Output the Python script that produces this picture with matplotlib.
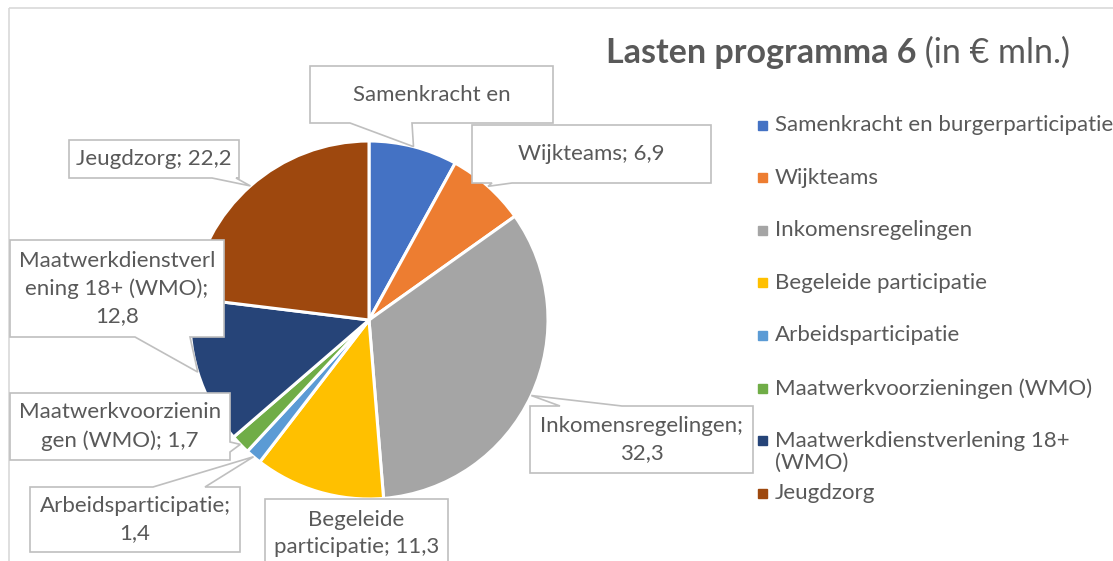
""" Lasten programma 6 - taartdiagram met callout labels """

import matplotlib.pyplot as plt
from matplotlib.patches import Polygon, Rectangle
import numpy as np

categories = ['Samenkracht en burgerparticipatie', 'Wijkteams', 'Inkomensregelingen',
              'Begeleide participatie', 'Arbeidsparticipatie',
              'Maatwerkvoorzieningen (WMO)', 'Maatwerkdienstverlening 18+ (WMO)',
              'Jeugdzorg']
values = [7.7, 6.9, 32.3, 11.3, 1.4, 1.7, 12.8, 22.2]
colors = ['#4472C4', '#ED7D31', '#A5A5A5', '#FFC000', '#5B9BD5', '#70AD47',
          '#264478', '#9E480E']
legend_labels = ['Samenkracht en burgerparticipatie', 'Wijkteams', 'Inkomensregelingen',
                 'Begeleide participatie', 'Arbeidsparticipatie',
                 'Maatwerkvoorzieningen (WMO)', 'Maatwerkdienstverlening 18+\n(WMO)',
                 'Jeugdzorg']
# data labels as wrapped by the spreadsheet
label_texts = ['Samenkracht en', 'Wijkteams; 6,9', 'Inkomensregelingen;\n32,3',
               'Begeleide\nparticipatie; 11,3', 'Arbeidsparticipatie;\n1,4',
               'Maatwerkvoorzienin\ngen (WMO); 1,7',
               'Maatwerkdienstverl\nening 18+ (WMO);\n12,8', 'Jeugdzorg; 22,2']

TXT = '#595959'
EDGE = '#BFBFBF'
FONT = 'Lato'

# callout boxes in pixels: x0, y0, x1, y1, side of pointer, base from, base to
boxes = [
    (310, 66, 553, 123, 'bottom', 350, 412),
    (472, 125, 711, 183, 'bottom', 492, 512),
    (530, 406, 753, 473, 'top', 560, 622),
    (265, 499, 448, 580, None, 0, 0),
    (30, 487, 240, 552, 'top', 153, 205),
    (10, 393, 230, 460, 'right', 442, 452),
    (10, 240, 224, 337, 'bottom', 135, 190),
    (69, 140, 239, 178, 'bottom', 212, 236),
]


def callout(x0, y0, x1, y1, side, a, b, tip):
    pts = [(x0, y0)]
    if side == 'top':
        pts += [(a, y0), tip, (b, y0)]
    pts += [(x1, y0)]
    if side == 'right':
        pts += [(x1, a), tip, (x1, b)]
    pts += [(x1, y1)]
    if side == 'bottom':
        pts += [(b, y1), tip, (a, y1)]
    pts += [(x0, y1)]
    return Polygon(pts, closed=True, facecolor='white', edgecolor=EDGE,
                   linewidth=1.2, zorder=3)


def main():
    fig = plt.figure(figsize=(11.13, 5.61), dpi=100)
    ax = fig.add_axes([0, 0, 1, 1])

    cx, cy, r = 369, 320, 179
    # y axis is flipped below, so start at -90 and go counterclockwise
    wedges, _ = ax.pie(values, colors=colors, startangle=-90, counterclock=True,
                       center=(cx, cy), radius=r, frame=False,
                       wedgeprops=dict(edgecolor='white', linewidth=2.2))
    ax.set_xlim(0, 1113)
    ax.set_ylim(561, 0)
    ax.set_aspect('auto')
    ax.axis('off')

    # chart area border
    ax.add_patch(Rectangle((9, 8), 1200, 700, facecolor='none', edgecolor='#D9D9D9',
                           linewidth=1.2, zorder=1))

    for w, txt, (x0, y0, x1, y1, side, a, b) in zip(wedges, label_texts, boxes):
        mid = np.radians((w.theta1 + w.theta2) / 2)
        tip = (cx + r * np.cos(mid), cy + r * np.sin(mid))
        ax.add_patch(callout(x0, y0, x1, y1, side, a, b, tip))
        yc = (y0 + min(y1, 568)) / 2
        ax.text((x0 + x1) / 2, yc, txt, ha='center', va='center', color=TXT,
                fontsize=16, family=FONT, linespacing=1.45, zorder=4)

    # legend
    for i, lab in enumerate(legend_labels):
        y = 125 + i * 52.6
        ax.add_patch(Rectangle((758, y - 4.5), 9, 9, color=colors[i], zorder=3))
        ax.text(775, y - 10, lab, ha='left', va='top', color=TXT, fontsize=16,
                family=FONT, linespacing=1.15, zorder=4)

    # title: bold part followed by regular part
    t2 = ax.text(1070, 63, ' (in € mln.)', ha='right', va='baseline', color=TXT,
                 fontsize=24.5, family=FONT)
    ax.annotate('Lasten programma 6', xy=(0, 0), xycoords=t2, ha='right', va='bottom',
                color=TXT, fontsize=24.5, family=FONT, fontweight='bold')

    fig.savefig('out.png', dpi=100, facecolor='white')


if __name__ == '__main__':
    main()
